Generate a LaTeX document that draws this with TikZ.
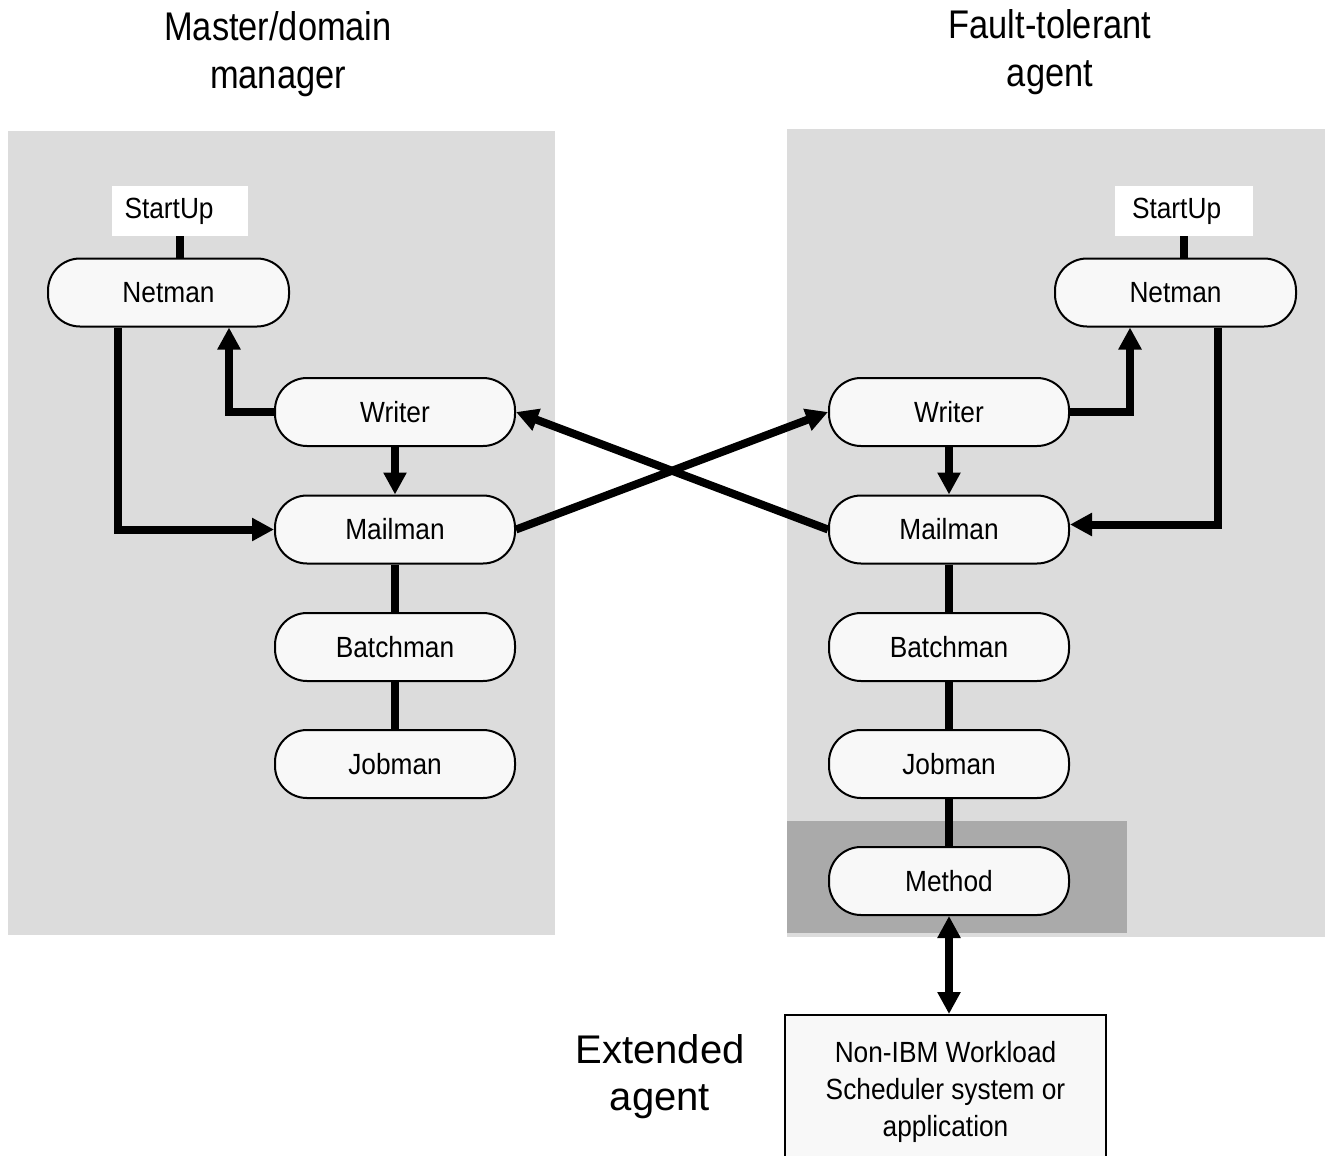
\documentclass[tikz,border=0pt]{standalone}
\usepackage{fontspec}
\setmainfont{Liberation Sans}[FakeStretch=0.9]
\newfontfamily\titlefont{Liberation Sans}[FakeStretch=0.86]
\newfontfamily\plainfont{Liberation Sans}
\usetikzlibrary{arrows.meta,calc}
\definecolor{panel}{HTML}{DCDCDC}
\definecolor{darkpanel}{HTML}{AAAAAA}
\definecolor{nodefill}{HTML}{F8F8F8}
\tikzset{
  proc/.style={draw, line width=1pt, fill=nodefill, rounded corners=16pt,
    minimum width=120pt, minimum height=34pt, inner sep=0pt,
    font=\fontsize{14.6}{16}\selectfont},
  startbox/.style={fill=white, minimum width=68pt, minimum height=25pt, inner ysep=0pt,
    inner xsep=6.5pt, text width=55pt, align=left,
    font=\fontsize{14.6}{16}\selectfont},
  conn/.style={line width=4pt, line cap=butt},
  arr/.style={conn, -{Triangle[length=11pt,width=11pt]}},
  dblarr/.style={conn, {Triangle[length=11pt,width=11pt]}-{Triangle[length=11pt,width=11pt]}},
  titletext/.style={align=center, font=\titlefont\fontsize{20}{24}\selectfont},
}
\begin{document}
\begin{tikzpicture}[x=0.5pt,y=-0.5pt]
\useasboundingbox (0,0) rectangle (1325,1155);
% panels
\fill[panel] (8,131) rectangle (555,935);
\fill[panel] (787,129) rectangle (1325,937);
\fill[darkpanel] (787,821) rectangle (1127,933);

% titles
\node[titletext] (tL) at (278,54) {Master/domain\\manager};
\node[titletext] (tR) at (1050,52) {Fault-tolerant\\agent};
\node[align=center, font=\plainfont\fontsize{20}{23.5}\selectfont] (tE) at (660,1077) {Extended\\agent};

% left nodes
\node[startbox] (supL) at (179.5,211) {StartUp};
\node[proc, minimum width=120.5pt] (netL) at (168.5,292.5) {Netman};
\node[proc] (wriL) at (395,412) {Writer};
\node[proc] (mailL) at (395,529.5) {Mailman};
\node[proc] (batL) at (395,647) {Batchman};
\node[proc] (jobL) at (395,764) {Jobman};

% right nodes
\node[startbox, inner xsep=8.5pt, text width=52pt] (supR) at (1184,211) {StartUp};
\node[proc, minimum width=120.5pt] (netR) at (1175.5,292.5) {Netman};
\node[proc] (wriR) at (949,412) {Writer};
\node[proc] (mailR) at (949,529.5) {Mailman};
\node[proc] (batR) at (949,647) {Batchman};
\node[proc] (jobR) at (949,764) {Jobman};
\node[proc] (meth) at (949,881) {Method};

\node[draw, line width=1pt, fill=nodefill, minimum width=160.5pt, minimum height=77pt,
  inner sep=0pt, align=center, font=\fontsize{14.6}{18.5}\selectfont] (ext) at (945.5,1092)
  {Non-IBM Workload\\Scheduler system or\\application};

% helper coordinates
\coordinate (xL1) at (118,0);
\coordinate (xL2) at (229,0);
\coordinate (xR1) at (1130,0);
\coordinate (xR2) at (1218,0);

% left connectors
\draw[conn] (supL.south) -- (supL.south |- netL.north);
\draw[arr] (netL.south -| xL1) |- (mailL.west);
\draw[arr] (wriL.west) -| (netL.south -| xL2);
\draw[arr] (wriL.south) -- (mailL.north);
\draw[conn] (mailL.south) -- (batL.north);
\draw[conn] (batL.south) -- (jobL.north);

% cross connectors
\draw[arr] (mailL.east) -- (wriR.west);
\draw[arr] (mailR.west) -- (wriL.east);

% right connectors
\draw[conn] (supR.south) -- (supR.south |- netR.north);
\draw[arr] (wriR.east) -| (netR.south -| xR1);
\draw[arr] (netR.south -| xR2) |- ([yshift=2.5pt]mailR.east);
\draw[arr] (wriR.south) -- (mailR.north);
\draw[conn] (mailR.south) -- (batR.north);
\draw[conn] (batR.south) -- (jobR.north);
\draw[conn] (jobR.south) -- (meth.north);
\draw[dblarr] (meth.south) -- (meth.south |- ext.north);
\end{tikzpicture}
\end{document}
